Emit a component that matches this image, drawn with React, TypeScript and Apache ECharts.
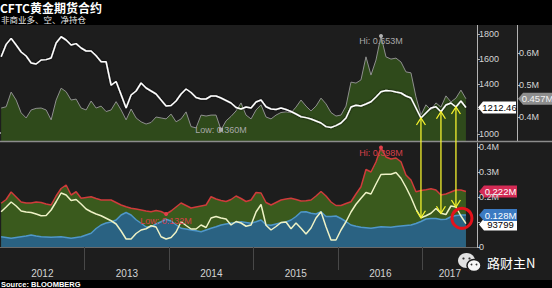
import React, { useEffect, useRef } from "react";
import * as echarts from "echarts";

// Gold price (USD/oz), resampled every ~3 weeks from 2012-01-06 to 2017-07-07
const price = [
  1618, 1717, 1765, 1712, 1656, 1624, 1568, 1560, 1592, 1595,
  1608, 1728, 1778, 1752, 1712, 1723, 1688, 1664, 1664, 1626,
  1578, 1578, 1390, 1420, 1315, 1208, 1312, 1344, 1408, 1368,
  1344, 1320, 1272, 1224, 1228, 1264, 1320, 1360, 1332, 1292,
  1280, 1280, 1304, 1304, 1288, 1268, 1248, 1212, 1200, 1216,
  1208, 1256, 1272, 1218, 1200, 1196, 1208, 1196, 1180, 1160,
  1138, 1131, 1120, 1104, 1088, 1059, 1052, 1067, 1088, 1128,
  1216, 1230, 1224, 1240, 1258, 1296, 1338, 1348, 1345, 1336,
  1328, 1304, 1288, 1208, 1128, 1168, 1208, 1218, 1178, 1232,
  1248, 1216, 1264, 1212.46,
];

// Open interest (millions of contracts)
const openInterest = [
  0.428, 0.432, 0.478, 0.453, 0.413, 0.397, 0.422, 0.427, 0.428, 0.422,
  0.391, 0.453, 0.49, 0.479, 0.453, 0.456, 0.428, 0.422, 0.45, 0.428,
  0.434, 0.417, 0.422, 0.448, 0.422, 0.391, 0.425, 0.397, 0.385, 0.378,
  0.383, 0.4, 0.397, 0.394, 0.409, 0.385, 0.394, 0.416, 0.37, 0.366,
  0.406, 0.403, 0.406, 0.406, 0.36, 0.388, 0.402, 0.419, 0.444, 0.406,
  0.394, 0.422, 0.438, 0.4, 0.394, 0.406, 0.414, 0.416, 0.413, 0.431,
  0.453, 0.434, 0.419, 0.434, 0.459, 0.441, 0.414, 0.403, 0.406, 0.434,
  0.509, 0.506, 0.516, 0.588, 0.531, 0.578, 0.653, 0.588, 0.581, 0.584,
  0.572, 0.541, 0.538, 0.463, 0.406, 0.438, 0.422, 0.444, 0.431, 0.466,
  0.447, 0.459, 0.484, 0.457,
];

// Non-commercial longs (millions)
const longs = [
  0.175, 0.19, 0.22, 0.2, 0.18, 0.176, 0.176, 0.18, 0.178, 0.172,
  0.168, 0.204, 0.234, 0.248, 0.208, 0.221, 0.195, 0.198, 0.201, 0.194,
  0.188, 0.188, 0.188, 0.178, 0.168, 0.161, 0.155, 0.152, 0.148, 0.144,
  0.141, 0.146, 0.142, 0.132, 0.144, 0.16, 0.176, 0.166, 0.156, 0.16,
  0.164, 0.168, 0.201, 0.192, 0.186, 0.182, 0.19, 0.204, 0.194, 0.182,
  0.188, 0.218, 0.216, 0.178, 0.168, 0.178, 0.188, 0.192, 0.195, 0.19,
  0.184, 0.185, 0.188, 0.204, 0.222, 0.204, 0.18, 0.166, 0.166, 0.174,
  0.181, 0.212, 0.241, 0.31, 0.3, 0.34, 0.398, 0.36, 0.352, 0.356,
  0.341, 0.288, 0.268, 0.221, 0.226, 0.229, 0.233, 0.228, 0.208, 0.212,
  0.22, 0.228, 0.228, 0.222,
];

// Non-commercial shorts (millions)
const shorts = [
  0.041, 0.038, 0.035, 0.038, 0.041, 0.044, 0.048, 0.044, 0.041, 0.04,
  0.039, 0.04, 0.041, 0.038, 0.035, 0.038, 0.041, 0.048, 0.055, 0.074,
  0.088, 0.096, 0.1, 0.108, 0.128, 0.138, 0.128, 0.109, 0.095, 0.08,
  0.081, 0.092, 0.101, 0.111, 0.104, 0.089, 0.075, 0.072, 0.068, 0.065,
  0.061, 0.068, 0.075, 0.081, 0.088, 0.092, 0.095, 0.098, 0.101, 0.098,
  0.095, 0.101, 0.108, 0.089, 0.087, 0.092, 0.097, 0.1, 0.108, 0.122,
  0.14, 0.141, 0.135, 0.132, 0.141, 0.122, 0.122, 0.124, 0.114, 0.102,
  0.088, 0.083, 0.079, 0.077, 0.075, 0.078, 0.081, 0.08, 0.079, 0.082,
  0.084, 0.086, 0.088, 0.094, 0.102, 0.112, 0.114, 0.114, 0.11, 0.111,
  0.121, 0.126, 0.128, 0.128,
];

// Net position (millions)
const net = [
  0.141, 0.16, 0.18, 0.164, 0.144, 0.14, 0.138, 0.132, 0.125, 0.126,
  0.148, 0.181, 0.216, 0.208, 0.186, 0.19, 0.172, 0.152, 0.141, 0.132,
  0.125, 0.115, 0.105, 0.092, 0.064, 0.032, 0.032, 0.054, 0.068, 0.073,
  0.085, 0.08, 0.041, 0.032, 0.038, 0.06, 0.101, 0.086, 0.072, 0.072,
  0.088, 0.078, 0.116, 0.122, 0.116, 0.112, 0.088, 0.102, 0.096, 0.083,
  0.088, 0.14, 0.17, 0.087, 0.068, 0.082, 0.098, 0.1, 0.073, 0.096,
  0.075, 0.052, 0.076, 0.116, 0.141, 0.081, 0.028, 0.028, 0.068, 0.101,
  0.14, 0.171, 0.195, 0.218, 0.212, 0.252, 0.29, 0.291, 0.291, 0.298,
  0.275, 0.239, 0.199, 0.152, 0.117, 0.125, 0.135, 0.154, 0.135, 0.13,
  0.164, 0.16, 0.124, 0.093799,
];

const years = [2012, 2013, 2014, 2015, 2016, 2017];
const priceTicks = [1000, 1200, 1400, 1600, 1800];
const priceLabels = [1000, 1400, 1600, 1800];
const oiTicks = [0.4, 0.5, 0.6];
const posTicks = [0, 0.1, 0.2, 0.3, 0.4];
const posLabels = [0, 0.2, 0.3, 0.4];
const arrowIdx = [84, 88, 91];
const hiIdx = 76;
const oiLowIdx = 44;
const longLowIdx = 33;

const DAY = 86400000;
const YEAR_MS = 365.25 * DAY;
const AXIS_MIN = Date.UTC(2012, 0, 1);
const AXIS_MAX = AXIS_MIN + 5.645 * YEAR_MS;
const START = Date.UTC(2012, 0, 6);
const END = Date.UTC(2017, 6, 7);
const dates = price.map((_, i) => START + ((END - START) * i) / (price.length - 1));
const pairs = (vals: number[]) => vals.map((v, i) => [dates[i], v]);

const FONT = "Liberation Sans, Arial, sans-serif";
const CJK = "Noto Sans CJK SC, sans-serif";

export default function App() {
  const ref = useRef<HTMLDivElement>(null);
  useEffect(() => {
    if (!ref.current) return;
    const chart = echarts.init(ref.current, null, { renderer: "svg" });
    const yearStarts = years.map((y) => Date.UTC(y, 0, 1));
    const labelPos = years.map((y, i) => {
      const s = yearStarts[i];
      const e = i + 1 < years.length ? yearStarts[i + 1] : AXIS_MAX;
      return (s + e) / 2;
    });

    const axisText = { color: "#d4d4d4", fontSize: 9, fontFamily: FONT };
    const option: any = {
      animation: false,
      backgroundColor: "#1d1d1d",
      grid: [
        { left: 0, top: 25, width: 477, height: 116 },
        { left: 0, top: 143, width: 477, height: 104 },
      ],
      xAxis: [
        {
          type: "value", gridIndex: 0, min: AXIS_MIN, max: AXIS_MAX,
          show: false, splitLine: { show: false },
        },
        {
          type: "value", gridIndex: 1, min: AXIS_MIN, max: AXIS_MAX, offset: 9,
          axisLine: { show: true, lineStyle: { color: "#6a6a6a", width: 1 } },
          axisTick: {
            show: true, customValues: yearStarts.slice(1), length: 23,
            lineStyle: { color: "#484848", width: 1 },
          },
          axisLabel: {
            show: true, customValues: labelPos, margin: 12,
            color: "#d4d4d4", fontSize: 10, fontFamily: FONT,
            formatter: (v: number) => String(new Date(v).getUTCFullYear()),
          },
          splitLine: { show: false },
        },
        {
          type: "value", gridIndex: 1, min: AXIS_MIN, max: AXIS_MAX, offset: 9,
          interval: YEAR_MS / 4,
          axisLine: { show: false },
          axisTick: { show: true, length: 2, lineStyle: { color: "#8a8a8a" } },
          axisLabel: { show: false },
          splitLine: { show: false },
        },
      ],
      yAxis: [
        {
          type: "value", gridIndex: 0, position: "right", min: 944, max: 1872,
          axisLine: { show: true, lineStyle: { color: "#b4b4b4" } },
          axisTick: { show: true, customValues: priceTicks, length: 3, lineStyle: { color: "#b4b4b4" } },
          axisLabel: { ...axisText, customValues: priceLabels, margin: 2, formatter: (v: number) => String(v) },
          splitLine: { show: false },
        },
        {
          type: "value", gridIndex: 0, position: "right", offset: 40, min: 0.325, max: 0.6875,
          axisLine: { show: true, lineStyle: { color: "#b4b4b4" } },
          axisTick: { show: true, customValues: oiTicks, length: 3, lineStyle: { color: "#b4b4b4" } },
          axisLabel: {
            ...axisText, customValues: oiTicks, margin: 2,
            formatter: (v: number) => v.toFixed(1) + "M",
          },
          splitLine: { show: false },
        },
        {
          type: "value", gridIndex: 1, position: "right", min: 0, max: 0.416,
          axisLine: { show: true, lineStyle: { color: "#b4b4b4" } },
          axisTick: { show: true, customValues: posTicks, length: 3, lineStyle: { color: "#b4b4b4" } },
          axisLabel: {
            ...axisText, customValues: posLabels, margin: 2,
            formatter: (v: number) => (v === 0 ? "0" : v.toFixed(1) + "M"),
          },
          splitLine: { show: false },
        },
      ],
      series: [
        {
          name: "Open interest", type: "line", xAxisIndex: 0, yAxisIndex: 1,
          data: pairs(openInterest), showSymbol: false,
          lineStyle: { color: "#8f8f8f", width: 1 },
          areaStyle: { color: "#2f4a1b", opacity: 1 },
          markPoint: {
            silent: true, symbol: "circle", symbolSize: 4,
            itemStyle: { color: "#b0b0b0" },
            label: { show: true, color: "#a8a8a8", fontSize: 9, fontFamily: FONT, formatter: "{b}", offset: [0, 5] },
            data: [
              { name: "Hi: 0.653M", coord: [dates[hiIdx], openInterest[hiIdx]] },
              { name: "Low: 0.360M", coord: [dates[oiLowIdx], openInterest[oiLowIdx]], symbol: "rect", label: { offset: [0, 0] } },
            ],
          },
          z: 2,
        },
        {
          name: "Gold", type: "line", xAxisIndex: 0, yAxisIndex: 0,
          data: pairs(price), showSymbol: false,
          lineStyle: { color: "#ffffff", width: 1.5, shadowColor: "rgba(0,0,0,0.9)", shadowBlur: 2 },
          z: 3,
        },
        {
          name: "Longs", type: "line", xAxisIndex: 1, yAxisIndex: 2,
          data: pairs(longs), showSymbol: false,
          lineStyle: { color: "#cf3b3b", width: 1.5 },
          areaStyle: { color: "#3a5a1d", opacity: 1 },
          markPoint: {
            silent: true, symbol: "circle", symbolSize: 4,
            itemStyle: { color: "#e0404a" },
            label: { show: true, color: "#d8404a", fontSize: 9, fontFamily: FONT, formatter: "{b}", offset: [0, 5] },
            data: [
              { name: "Hi: 0.398M", coord: [dates[hiIdx], longs[hiIdx]] },
              { name: "Low: 0.132M", coord: [dates[longLowIdx], longs[longLowIdx]], label: { offset: [0, 7] } },
            ],
          },
          z: 2,
        },
        {
          name: "Shorts", type: "line", xAxisIndex: 1, yAxisIndex: 2,
          data: pairs(shorts), showSymbol: false,
          lineStyle: { color: "#4f97c9", width: 1.5 },
          areaStyle: { color: "#2a6282", opacity: 1 },
          z: 3,
        },
        {
          name: "Net", type: "line", xAxisIndex: 1, yAxisIndex: 2,
          data: pairs(net), showSymbol: false,
          lineStyle: { color: "#eef2c6", width: 1.5 },
          z: 4,
        },
      ],
    };
    chart.setOption(option);

    const last = price.length - 1;
    const yOf = (axis: number, v: number) => chart.convertToPixel({ yAxisIndex: axis } as any, v) as number;
    const xOf = (t: number) => chart.convertToPixel({ xAxisIndex: 1 } as any, t) as number;

    const tag = (x0: number, y: number, w: number, text: string, bg: string, fg: string) => ({
      type: "group",
      z: 100,
      children: [
        {
          type: "polygon",
          shape: { points: [[x0, y], [x0 + 5, y - 6], [x0 + w, y - 6], [x0 + w, y + 6], [x0 + 5, y + 6]] },
          style: { fill: bg },
        },
        {
          type: "text", x: x0 + 5 + (w - 5) / 2, y,
          style: { text, fill: fg, font: `9.5px ${FONT}`, align: "center", verticalAlign: "middle" },
        },
      ],
    });

    const graphics: any[] = [
      { type: "rect", shape: { x: 0, y: 0, width: 552, height: 25 }, style: { fill: "#000" }, z: 50 },
      { type: "rect", shape: { x: 0, y: 280, width: 552, height: 8 }, style: { fill: "#000" }, z: 50 },
      { type: "line", shape: { x1: 0, y1: 141.5, x2: 552, y2: 141.5 }, style: { stroke: "#8c8c8c", lineWidth: 1.5 }, z: 60 },
      {
        type: "text", x: 0, y: 7.5, z: 60,
        style: {
          text: "CFTC黄金期货合约", fill: "#ffffff", font: `bold 12px ${CJK}`,
          verticalAlign: "middle", lineHeight: 12,
        },
      },
      {
        type: "text", x: 1, y: 19, z: 60,
        style: {
          text: "非商业多、空、净持仓", fill: "#e6e6e6", font: `8.5px ${CJK}`,
          verticalAlign: "middle", lineHeight: 9,
        },
      },
      {
        type: "text", x: 1, y: 284.5, z: 60,
        style: { text: "Source: BLOOMBERG", fill: "#ffffff", font: `bold 7.5px ${FONT}`, verticalAlign: "middle", lineHeight: 8 },
      },
    ];

    // yellow annotation arrows from gold-price lows down to net-position lows
    arrowIdx.forEach((i) => {
      const x = xOf(dates[i]);
      const yTop = yOf(0, price[i]);
      const yBot = yOf(2, net[i]);
      const st = { stroke: "#f4f22e", lineWidth: 1.3, fill: "none" };
      graphics.push({ type: "line", z: 70, shape: { x1: x, y1: yTop, x2: x, y2: yBot }, style: st });
      graphics.push({ type: "polyline", z: 70, shape: { points: [[x - 4.5, yTop + 7], [x, yTop], [x + 4.5, yTop + 7]] }, style: st });
      graphics.push({ type: "polyline", z: 70, shape: { points: [[x - 4.5, yBot - 7], [x, yBot], [x + 4.5, yBot - 7]] }, style: st });
    });

    // red circle around latest readings
    const cx = xOf(dates[last]) - 4;
    const cy = (yOf(2, shorts[last]) + yOf(2, net[last])) / 2 - 1;
    graphics.push({
      type: "circle", z: 80, shape: { cx, cy, r: 10 },
      style: { fill: "none", stroke: "#e5121b", lineWidth: 3 },
    });

    // last value tags on the axes
    graphics.push(tag(478, yOf(0, price[last]), 38, price[last].toFixed(2), "#ffffff", "#000000"));
    graphics.push(tag(518, yOf(1, openInterest[last]), 34, openInterest[last].toFixed(3) + "M", "#8e8e8e", "#f2f2f2"));
    graphics.push(tag(479, yOf(2, longs[last]), 38, longs[last].toFixed(3) + "M", "#d42b55", "#ffffff"));
    graphics.push(tag(479, yOf(2, net[last]) + 1, 38, String(Math.round(net[last] * 1e6)), "#ffffff", "#000000"));
    graphics.push(tag(479, yOf(2, shorts[last]), 38, shorts[last].toFixed(3) + "M", "#3b7ac2", "#ffffff"));

    // watermark
    graphics.push({
      type: "group", z: 90,
      children: [
        { type: "ellipse", shape: { cx: 466.5, cy: 260.5, rx: 8.5, ry: 7.5 }, style: { fill: "#e2e2e2" } },
        { type: "circle", shape: { cx: 463.5, cy: 258.5, r: 1.1 }, style: { fill: "#333" } },
        { type: "circle", shape: { cx: 469.5, cy: 258.5, r: 1.1 }, style: { fill: "#333" } },
        { type: "ellipse", shape: { cx: 474, cy: 265.5, rx: 7, ry: 6 }, style: { fill: "#f6f6f6", stroke: "#1d1d1d", lineWidth: 1.5 } },
        { type: "circle", shape: { cx: 471.5, cy: 264.5, r: 0.9 }, style: { fill: "#333" } },
        { type: "circle", shape: { cx: 476.5, cy: 264.5, r: 0.9 }, style: { fill: "#333" } },
        {
          type: "text", x: 487, y: 262.5,
          style: { text: "路财主N", fill: "#ffffff", font: `13px ${CJK}`, verticalAlign: "middle" },
        },
      ],
    });

    chart.setOption({ graphic: graphics });
    return () => chart.dispose();
  }, []);

  return (
    <div
      ref={ref}
      style={{ position: "fixed", left: 0, top: 0, width: 552, height: 288, background: "#000" }}
    />
  );
}
